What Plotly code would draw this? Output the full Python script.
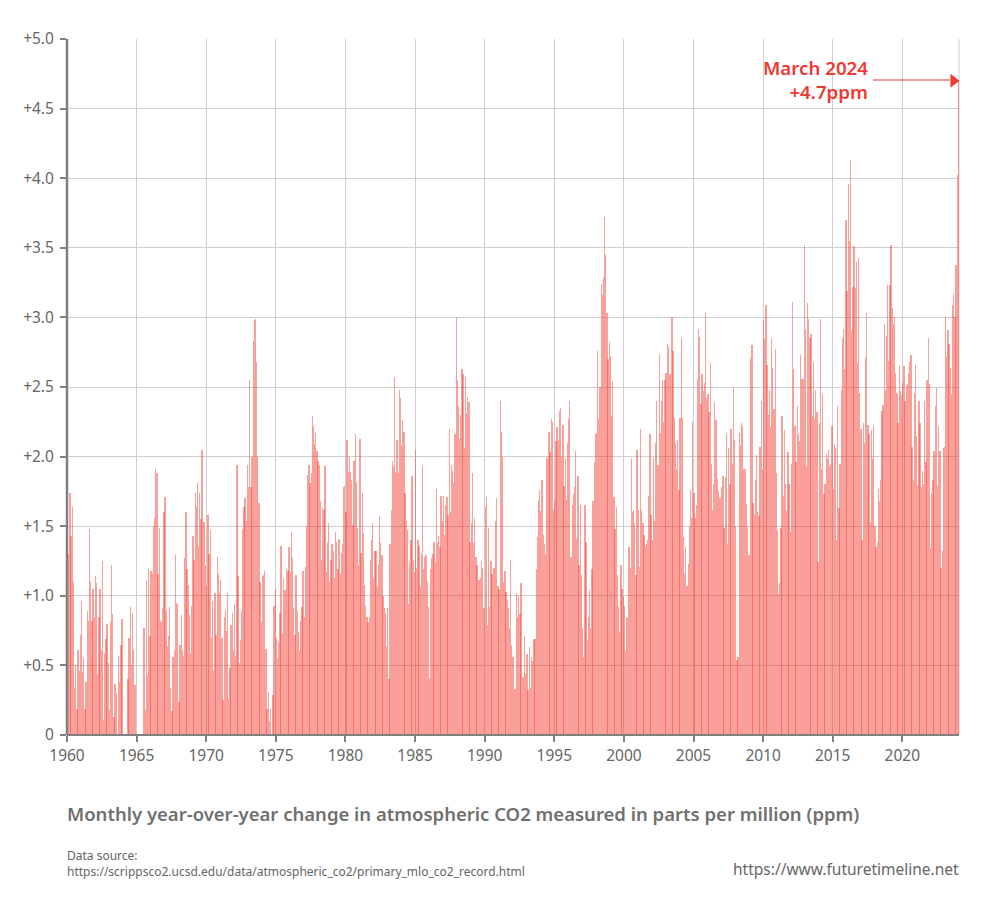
import plotly.graph_objects as go

# Monthly year-over-year CO2 change (ppm), in order from 1960 on
change_1960_1965 = [0.93,1.3,1.74,1.43,1.64,1.1,0.34,0.5,0.19,0.61,0.46,0.72,0.96,0.45,0.55,0.19,0.38,0.89,0.82,1.48,1.1,0.82,1.05,0.85,1.14,1.09,0.44,0.85,1.05,0.61,1.25,0.11,0.59,0.69,0.8,0.52,0.18,0.81,1.22,0.87,0.13,0.37,0.3,0.01,0.57,0.38,0.65,0.83,0,0,0,0,0.4,0.7,0.92,0.5,0.88,0.61,0.36,0,0,0,0,0,0,0]
change_1965_1970 = [0.77,0.18,1.11,0.43,1.19,0.71,1.18,1.16,1.5,1.56,1.91,1.88,1.16,1.49,0.82,0.81,0.91,1.6,1.71,0.9,0.64,0.71,0.92,0.34,0.17,0.56,0.61,1.29,0.95,0.94,0.24,0.65,0.86,0.61,0.57,1.27,1.6,1.19,1.08,0.86,0.59,0.93,1.43,1.26,1.74,1.64,1.81,1.35,1.74,1.55,2.05,1.53,1.53,1.22]
change_1970_1975 = [1.07,1.58,1.3,1.47,0.7,0.96,0.46,1.02,0.72,1.28,1.16,1.02,1.11,0.7,0.25,0.85,0.9,0.75,1.02,0.26,0.48,0.79,0.88,0.6,0.94,0.57,1.94,1.14,0.52,0.68,0.89,1.48,1.64,1.7,1.54,1.94,1.78,2.55,1.78,2.0,2.83,2.98,2.99,2.68,2.0,1.67,1.1,0.81,1.14,1.15,1.18,0.62,0.19,0.31,0.1,0.19,0.01,0.29,0.93,1.05,0.7,0.55,0.67,0.88,1.36,0.73,1.13,1.04,1.04,1.19,1.18,1.35]
change_1975_1980 = [1.17,1.46,1.27,0.91,0.72,1.15,0.89,0.74,0.6,0.82,0.92,1.18,0.85,1.21,1.5,1.87,1.94,1.81,1.88,2.29,2.22,2.09,2.17,2.04,1.97,1.94,1.68,1.26,1.63,1.62,1.93,1.17,1.39,1.52,1.1,1.26,1.37,1.32,1.13,1.46,1.39,1.19,1.41,1.16,1.31,1.37,1.78,1.79,1.6]
change_1980_1985 = [2.12,1.89,2.0,1.89,1.83,1.51,1.97,2.16,1.82,1.49,1.22,2.13,1.31,1.74,1.45,1.08,0.93,0.85,0.81,0.85,1.26,1.4,1.52,1.13,1.32,1.32,1.07,1.23,1.57,1.38,1.29,1.0,0.91,0.88,0.63,0.91,0.4,1.37,1.62,1.97,1.93,2.57,1.89,2.12,1.88,2.48,2.42,2.08,2.26,2.18,1.74,1.54,1.47,0.94,1.24,1.4,1.86,1.26,1.17,2.05]
change_1985_1990 = [1.2,1.4,1.36,1.06,1.3,1.93,1.19,1.28,1.29,1.1,0.92,0.4,1.19,1.27,1.3,1.39,1.24,1.77,1.38,1.43,1.35,1.72,1.54,1.72,1.44,1.65,1.71,1.58,2.2,1.6,1.94,1.9,1.81,2.16,3.0,2.55,2.36,2.13,2.3,2.63,2.59,2.06,2.57,2.31,2.43,2.39,1.39,1.52,1.88,1.38,1.56,1.28,1.22,1.11,1.11,1.13,1.25,1.2,0.91]
change_1990_1995 = [1.64,1.71,0.79,1.49,0.92,1.25,1.16,1.2,1.2,1.54,1.7,1.07,1.05,2.4,2.18,2.0,1.1,1.18,1.03,0.97,0.91,0.77,1.26,0.65,0.56,0.33,0.33,1.02,0.85,1.0,0.87,1.09,0.42,0.42,0.71,0.44,0.58,0.32,0.63,0.34,0.56,0.53,0.69,0.69,1.19,1.42,1.69,1.76,1.61,1.83,1.44,1.37,1.3,2.0,1.98,2.18,2.03,2.27,2.25,1.62]
change_1995_2000 = [1.69,2.11,2.21,2.12,2.33,2.35,2.0,2.23,1.79,1.99,1.69,2.1,2.27,2.4,1.28,1.65,1.73,1.78,2.04,1.41,1.86,1.22,1.65,1.15,0.77,0.56,1.65,1.39,0.68,0.85,1.04,0.77,1.19,1.68,1.96,2.16,2.17,2.76,2.27,2.5,3.24,3.16,3.28,3.72,3.45,3.03,2.7,2.82,2.72,2.29,2.54,1.71,1.48,1.64,1.15,0.92,0.74,1.22,1.05,1.0]
change_2000_2005 = [0.93,0.6,0.85,0.84,1.35,1.2,1.98,1.6,1.62,1.52,1.15,2.05,1.62,1.21,2.2,1.62,1.52,1.44,1.35,1.37,1.4,1.72,2.16,1.58,1.4,1.99,1.54,2.1,2.4,1.94,2.74,2.17,2.4,2.55,2.25,2.55,2.6,2.81,2.79,2.59,2.59,3.0,2.76,2.28,2.1,1.91,2.12,1.76,2.28,2.85,2.28,1.42,1.16,1.35,1.07,1.23,1.5,1.76,1.56,2.25]
change_2005_2010 = [1.74,1.56,1.65,2.56,2.92,2.86,2.38,2.59,2.47,2.53,3.03,2.42,2.45,2.32,2.67,1.95,1.62,1.8,2.39,2.26,1.84,1.75,1.7,1.7,1.78,1.86,1.49,1.85,2.16,1.37,2.06,1.8,2.2,1.95,2.49,2.12,1.5,0.54,0.56,2.17,2.08,2.24,2.22,1.91,1.91,1.66,1.5,1.29,1.29,2.71,2.8,1.67,1.58,1.83,2.01,1.6,1.57,2.07,2.4,1.91,2.98]
change_2010_2015 = [2.85,3.09,2.66,2.3,2.48,2.21,2.85,2.64,2.34,2.77,1.88,1.47,1.01,1.09,1.49,2.29,1.72,2.19,1.8,1.61,2.03,1.8,1.46,1.95,3.11,2.63,2.22,1.96,2.36,2.16,2.11,2.73,2.56,2.56,3.52,2.92,1.93,3.1,2.99,2.85,2.88,2.29,2.68,2.27,2.48,2.32,1.24,2.24,2.99,1.91,2.45,1.73,1.8,2.02,1.98,2.05,1.93,1.95,2.22,1.77,2.09,2.06]
change_2015_2020 = [1.4,2.36,1.63,1.95,2.48,2.85,2.92,2.63,3.7,3.19,3.96,3.55,4.13,2.9,3.22,3.51,3.21,3.4,2.67,3.43,2.46,2.2,1.4,2.24,2.1,2.71,3.03,2.23,2.16,1.53,2.19,1.98,2.22,1.5,1.35,1.39,1.77,1.68,1.83,2.33,2.37,2.95,2.48,2.87,3.23,2.69,3.23,3.52,3.07,2.95,3.0,2.6,2.46,2.24,2.65,2.47,2.44,2.53,2.65,2.4,2.51,2.52]
change_2020_2024 = [2.6,2.68,2.73,2.07,1.83,2.46,2.66,2.15,1.79,2.4,2.24,1.78,1.9,1.8,2.4,1.96,2.55,2.85,2.52,1.34,1.74,1.83,2.04,2.36,2.49,1.79,2.22,2.04,1.2,1.32,2.06,2.07,3.0,2.72,2.91,2.81,2.64,2.45,3.09,3.17,3.0,3.38,4.02,4.7]

tick_years = [1960,1965,1970,1975,1980,1985,1990,1995,2000,2005,2010,2015,2020]
y_ticks = [0,0.5,1,1.5,2,2.5,3,3.5,4,4.5,5]
y_labels = ["0","+0.5","+1.0","+1.5","+2.0","+2.5","+3.0","+3.5","+4.0","+4.5","+5.0"]

values = (change_1960_1965 + change_1965_1970 + change_1970_1975 + change_1975_1980
          + change_1980_1985 + change_1985_1990 + change_1990_1995 + change_1995_2000
          + change_2000_2005 + change_2005_2010 + change_2010_2015 + change_2015_2020
          + change_2020_2024)

X_START, X_END = 1960, 2024.07
n = len(values)
step = (X_END - X_START) / n
xs = [X_START + (i + 0.5) * step for i in range(n)]

GREY = "#666666"
AXIS = "#808080"
RED = "#ee3a33"
GRID = "#cfcfcf"
FONT = "Noto Sans"

L, R, T, B = 67, 959, 39, 735
def px(x): return (x - L) / (R - L)
def py(y): return (B - y) / (B - T)

fig = go.Figure()
fig.add_trace(go.Bar(x=xs, y=values, width=step * 1.12,
                     marker=dict(color="rgba(243,65,55,0.5)", line=dict(width=0)),
                     hoverinfo="skip", showlegend=False))
fig.add_trace(go.Scatter(x=[X_END - 0.4], y=[4.7], mode="markers",
                         marker=dict(symbol="triangle-right", size=12, color=RED, line=dict(width=0)),
                         hoverinfo="skip", showlegend=False, cliponaxis=False))

fig.update_layout(
    width=986, height=903, autosize=False,
    margin=dict(l=L, r=986 - R, t=T, b=903 - B, pad=0),
    paper_bgcolor="white", plot_bgcolor="white",
    bargap=0, font=dict(family=FONT, color=GREY, size=16),
    xaxis=dict(range=[X_START, X_END], tickvals=tick_years, ticktext=[str(y) for y in tick_years],
               showgrid=True, gridcolor=GRID, gridwidth=1, zeroline=False,
               ticks="outside", ticklen=6, tickwidth=2, tickcolor=AXIS,
               showline=False, layer="above traces",
               tickfont=dict(size=15.5, color=GREY, family=FONT)),
    yaxis=dict(range=[0, 5], tickvals=y_ticks, ticktext=y_labels,
               showgrid=True, gridcolor=GRID, gridwidth=1, zeroline=False,
               ticks="outside", ticklen=6, tickwidth=2, tickcolor=AXIS,
               showline=False, layer="above traces", ticklabelstandoff=3,
               tickfont=dict(size=15.5, color=GREY, family=FONT)),
)

fig.add_shape(type="line", xref="paper", yref="paper", x0=1, x1=1, y0=0, y1=1,
              line=dict(color=GRID, width=1), layer="below")
fig.add_shape(type="line", xref="paper", yref="paper", x0=0, x1=0, y0=0, y1=1,
              line=dict(color=AXIS, width=2.5), layer="above")
fig.add_shape(type="line", xref="paper", yref="paper", x0=0, x1=1, y0=0, y1=0,
              line=dict(color=AXIS, width=2), layer="above")
fig.add_shape(type="line", xref="paper", yref="paper", x0=px(873), x1=px(950), y0=py(80), y1=py(80),
              line=dict(color=RED, width=1), layer="above")

def label(text, x, y, size, color=GREY, anchor="left", weight=None):
    fig.add_annotation(text=text, xref="paper", yref="paper", x=px(x), y=py(y), showarrow=False,
                       xanchor=anchor, yanchor="middle", align=anchor,
                       font=dict(size=size, color=color, family=FONT, weight=weight))

label("March 2024<br>+4.7ppm", 870, 79, 18.7, RED, "right", 600)
label("Monthly year-over-year change in atmospheric CO2 measured in parts per million (ppm)", 65, 813, 18.5, "#707070", "left", 600)
label("Data source:<br>https://scrippsco2.ucsd.edu/data/atmospheric_co2/primary_mlo_co2_record.html", 65, 863, 12, GREY)
label("https://www.futuretimeline.net", 961, 869, 15.5, GREY, "right")

fig.write_html("out.html", post_script="document.body.style.margin='0';", config={"displayModeBar": False})
